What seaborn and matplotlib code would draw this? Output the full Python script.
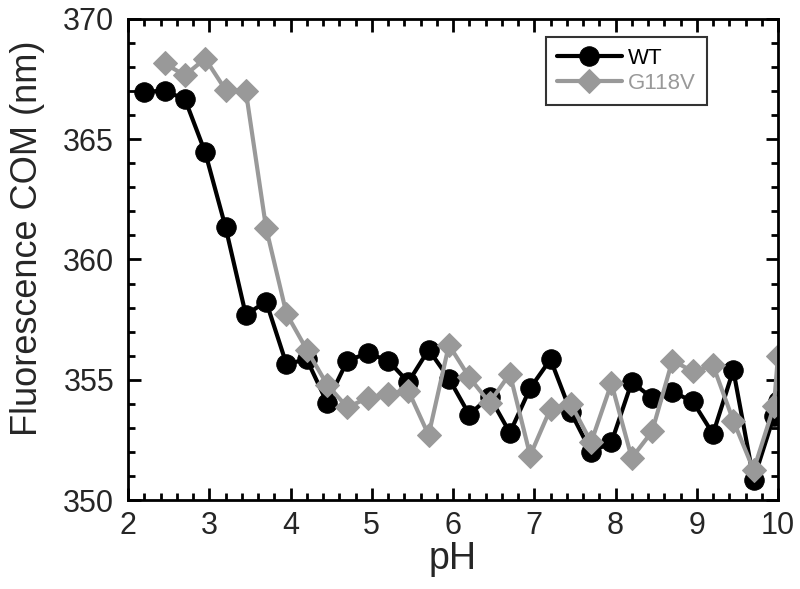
import numpy as np
import pandas as pd
import matplotlib
matplotlib.use('Agg')
import matplotlib.pyplot as plt
import seaborn as sns
from matplotlib.ticker import MultipleLocator

# Dados
ph_wt = [2.2, 2.45, 2.7, 2.95, 3.2, 3.45, 3.7, 3.95, 4.2, 4.45, 4.7, 4.95, 5.2, 5.45,
         5.7, 5.95, 6.2, 6.45, 6.7, 6.95, 7.2, 7.45, 7.7, 7.95, 8.2, 8.45, 8.7, 8.95,
         9.2, 9.45, 9.7, 9.95, 10.0]
com_wt = [366.98, 367.0, 366.67, 364.45, 361.35, 357.7, 358.25, 355.65, 355.85, 354.05,
          355.8, 356.1, 355.8, 354.9, 356.25, 355.05, 353.55, 354.3, 352.8, 354.65,
          355.85, 353.65, 352.0, 352.4, 354.9, 354.25, 354.5, 354.1, 352.75, 355.4,
          350.85, 353.5, 354.1]

ph_g118v = [2.45, 2.7, 2.95, 3.2, 3.45, 3.7, 3.95, 4.2, 4.45, 4.7, 4.95, 5.2, 5.45,
            5.7, 5.95, 6.2, 6.45, 6.7, 6.95, 7.2, 7.45, 7.7, 7.95, 8.2, 8.45, 8.7,
            8.95, 9.2, 9.45, 9.7, 9.95, 10.0]
com_g118v = [368.15, 367.65, 368.35, 367.05, 367.0, 361.3, 357.75, 356.25, 354.8, 353.85,
             354.25, 354.4, 354.55, 352.7, 356.45, 355.1, 354.05, 355.25, 351.85, 353.8,
             354.0, 352.4, 354.85, 351.75, 352.85, 355.8, 355.35, 355.6, 353.3, 351.25,
             353.9, 356.0]

df_wt = pd.DataFrame({'pH': ph_wt, 'COM': com_wt})
df_g = pd.DataFrame({'pH': ph_g118v, 'COM': com_g118v})

sns.set_style('ticks')
plt.rcParams['font.family'] = ['Liberation Sans', 'DejaVu Sans']

cinza = '#999999'

fig = plt.figure(figsize=(8, 5.89), dpi=100)
ax = fig.add_axes([0.16, 0.151, 0.8125, 0.817])

sns.lineplot(data=df_wt, x='pH', y='COM', ax=ax, color='black', lw=3,
             marker='o', markersize=14, markeredgecolor='black', label='WT',
             estimator=None, sort=False)
sns.lineplot(data=df_g, x='pH', y='COM', ax=ax, color=cinza, lw=3,
             marker='D', markersize=12, markeredgecolor=cinza, label='G118V',
             estimator=None, sort=False)

ax.set_xlim(2, 10)
ax.set_ylim(350, 370)
ax.xaxis.set_major_locator(MultipleLocator(1))
ax.xaxis.set_minor_locator(MultipleLocator(0.2))
ax.yaxis.set_major_locator(MultipleLocator(5))
ax.yaxis.set_minor_locator(MultipleLocator(1))
ax.tick_params(which='both', direction='in', top=True, right=True, width=2,
               color='black')
ax.tick_params(axis='x', which='major', labelsize=22, pad=8)
ax.tick_params(axis='y', which='major', labelsize=22, pad=10)
ax.tick_params(which='major', length=9)
ax.tick_params(which='minor', length=5)
for s in ax.spines.values():
    s.set_linewidth(2)
    s.set_color('black')

ax.set_xlabel('pH', fontsize=27, labelpad=0)
ax.set_ylabel('Fluorescence COM (nm)', fontsize=26)
ax.yaxis.set_label_coords(-0.128, 0.545)

leg = ax.legend(loc='upper left', bbox_to_anchor=(0.643, 0.963), fontsize=16,
                frameon=True, fancybox=False, edgecolor='black',
                handlelength=2.9, handletextpad=0.3, borderpad=0.5,
                borderaxespad=0, labelspacing=0.2)
leg.get_frame().set_linewidth(1.5)
for txt, col in zip(leg.get_texts(), ['black', cinza]):
    txt.set_color(col)

fig.savefig('out.png', dpi=100)
